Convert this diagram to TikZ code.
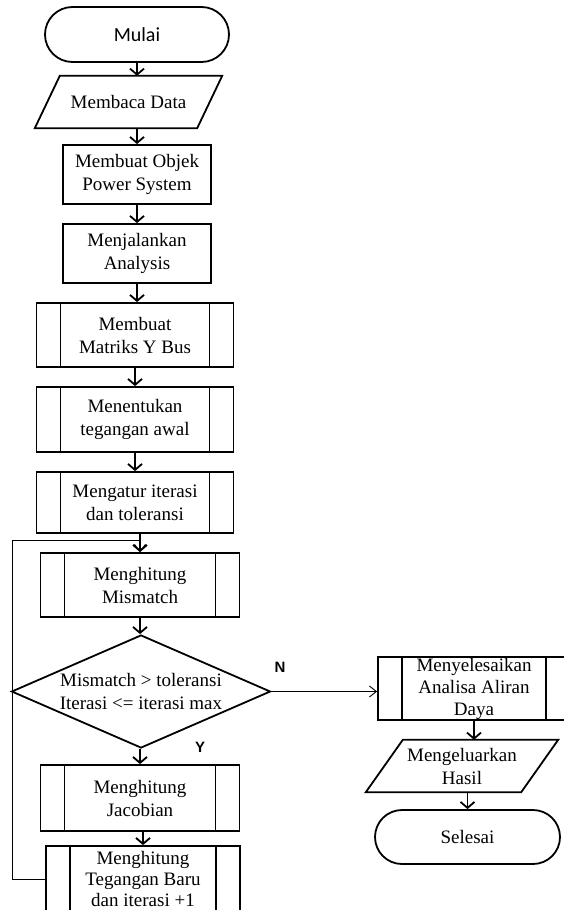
\documentclass[tikz,border=0pt]{standalone}
\usepackage{fontspec}
\setmainfont{Liberation Serif}
\newfontfamily\startfont{Carlito}
\newfontfamily\yesnofont{Liberation Sans}
\usetikzlibrary{shapes.geometric,shapes.misc,arrows.meta}

\begin{document}
\begin{tikzpicture}[x=1pt,y=-1pt,
  every node/.style={font=\fontsize{19}{23}\selectfont,align=center,inner sep=0pt},
  term/.style={shape=rounded rectangle,draw=black,line width=1.8pt,minimum width=184,minimum height=55},
  io/.style={shape=rectangle,minimum height=52,
    append after command={\pgfextra{\draw[line width=1.8pt]
      ([xshift=#1]\tikzlastnode.north west) -- (\tikzlastnode.north east)
      -- ([xshift=-#1]\tikzlastnode.south east) -- (\tikzlastnode.south west) -- cycle;}}},
  box/.style={shape=rectangle,draw=black,line width=1.8pt,minimum width=148,minimum height=59},
  proc/.style={box,minimum width=197,minimum height=64,
    path picture={\draw[line width=1.8pt]
      ([xshift=24pt]path picture bounding box.north west) -- ([xshift=24pt]path picture bounding box.south west)
      ([xshift=-24pt]path picture bounding box.north east) -- ([xshift=-24pt]path picture bounding box.south east);}},
  test/.style={shape=diamond,aspect=2.3,draw=black,line width=1.8pt,minimum width=259,minimum height=113},
  yesno/.style={font=\yesnofont\bfseries\fontsize{15}{17}\selectfont},
  flow/.style={-{Straight Barb[length=6pt,width=14pt]},draw=black,line width=1.8pt},
  branch/.style={-{Straight Barb[length=7pt,width=11pt]},draw=black,line width=0.9pt}]
\useasboundingbox (0,0) rectangle (563,910);

\node[term,font=\startfont\fontsize{20}{24}\selectfont] (0) at (137,34.5) {Mulai};
\node[io=25pt,minimum width=187] (1) at (128.5,102) {Membaca Data};
\node[box] (2) at (137,174.5) {Membuat Objek\\Power System};
\node[box] (3) at (137,253.5) {Menjalankan\\Analysis};
\node[proc] (4) at (135,335) {Membuat\\Matriks Y Bus};
\node[proc,minimum height=65] (5) at (135,419.5) {Menentukan\\tegangan awal};
\node[proc,minimum height=61] (6) at (135,502.5) {Mengatur iterasi\\dan toleransi};
\node[proc,minimum width=199] (7) at (140,585) {Menghitung\\Mismatch};
\node[test] (8) at (141,691.5) {Mismatch > toleransi\\Iterasi <= iterasi max};
\node[proc,minimum width=199,minimum height=66] (9) at (140,798) {Menghitung\\Jacobian};
\node[proc,minimum width=194,minimum height=66,font=\fontsize{19}{21}\selectfont] (10) at (143,879) {Menghitung\\Tegangan Baru\\dan iterasi +1};
\node[proc,minimum width=192,minimum height=63,font=\fontsize{19}{22}\selectfont] (11) at (474,688.5) {Menyelesaikan\\Analisa Aliran\\Daya};
\node[io=37pt,minimum width=192] (12) at (462,766) {Mengeluarkan\\Hasil};
\node[term,minimum width=185,minimum height=54] (13) at (467.5,837) {Selesai};
\node[yesno] (n) at (280,667) {N};
\node[yesno] (y) at (200,747) {Y};
\coordinate (turn) at (12,540);

\path [flow] (0.south) -- (0.south |- 1.north);
\path [flow] (2.north |- 1.south) -- (2.north);
\path [flow] (2) -- (3);
\path [flow] (3.south) -- (3.south |- 4.north);
\path [flow] (4) -- (5);
\path [flow] (5) -- (6);
\path [flow] (7.north |- 6.south) -- (7.north);
\path [flow] (7.south) -- (7.south |- 8.north);
\path [flow] (9.north |- 8.south) -- (9.north);
\path [flow] (10.north |- 9.south) -- (10.north);
\path [branch] (8.east) -- (8.east -| 11.west);
\path [flow] (11.south) -- (11.south |- 12.north);
\path [flow] (13.north |- 12.south) -- (13.north);
\path [branch] (10.west) -| (turn) -- (turn -| 7.north) -- (7.north);
\end{tikzpicture}
\end{document}
